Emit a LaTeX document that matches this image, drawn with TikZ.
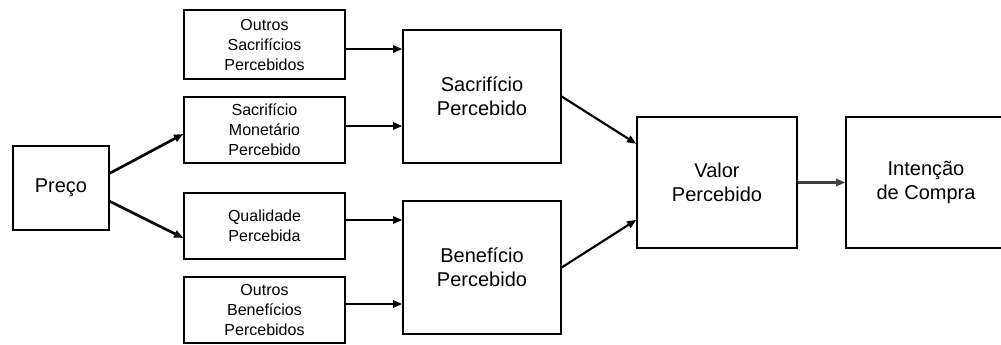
\documentclass[tikz,border=0pt]{standalone}
\usepackage{fontspec}
\setmainfont{Liberation Sans}
\usetikzlibrary{arrows.meta}

\begin{document}
\begin{tikzpicture}[x=0.75pt,y=0.75pt,yscale=-1,xscale=1,
  box/.style={draw,line width=1pt,inner sep=0.75pt,align=center},
  smallbox/.style={box,minimum width=120.75pt,minimum height=49.5pt,font=\fontsize{12}{15}\selectfont},
  bigbox/.style={box,minimum width=118.5pt,minimum height=99.75pt,font=\fontsize{15}{18}\selectfont},
  arr/.style={-{Triangle[length=7pt,width=5.5pt]},line width=1.6pt}]
\useasboundingbox (0,0) rectangle (1001,345);

% Preco
\node [box,minimum width=72pt,minimum height=63pt,font=\fontsize{15}{18}\selectfont] (preco) at (61,188) {Preço};

% left column
\node [smallbox,minimum height=51.75pt] (outsac) at (264.5,44.5) {Outros\\Sacrifícios\\Percebidos};
\node [smallbox] (monet) at (264.5,130) {Sacrifício\\Monetário\\Percebido};
\node [smallbox] (qual) at (264.5,226) {Qualidade\\Percebida};
\node [smallbox] (outben) at (264.5,310) {Outros\\Benefícios\\Percebidos};

% middle column
\node [bigbox] (sacper) at (482,96.5) {Sacrifício\\Percebido};
\node [bigbox] (benper) at (482,267.5) {Benefício\\Percebido};

% right
\node [bigbox,minimum width=120pt,minimum height=98.25pt] (valor) at (717,182.5) {Valor\\Percebido};
\node [bigbox,minimum width=120pt,minimum height=98.25pt] (intencao) at (926,182.5) {Intenção\\de Compra};

% arrows
\draw [arr,line width=2pt] ([yshift=-11pt]preco.east) -- ([yshift=3pt]monet.west);
\draw [arr,line width=2pt] ([yshift=10pt]preco.east) -- ([yshift=9pt]qual.west);

\draw [arr] ([yshift=3.4pt]outsac.east) -- ([yshift=3.4pt]outsac.east -| sacper.west);
\draw [arr] ([yshift=-3pt]monet.east) -- ([yshift=-3pt]monet.east -| sacper.west);
\draw [arr] ([yshift=-4.5pt]qual.east) -- ([yshift=-4.5pt]qual.east -| benper.west);
\draw [arr] ([yshift=-4.5pt]outben.east) -- ([yshift=-4.5pt]outben.east -| benper.west);

\draw [arr] (sacper.east) -- ([yshift=-29pt]valor.west);
\draw [arr] (benper.east) -- ([yshift=28pt]valor.west);
\draw [arr,draw=black!75] (valor) -- (intencao);

\end{tikzpicture}
\end{document}
